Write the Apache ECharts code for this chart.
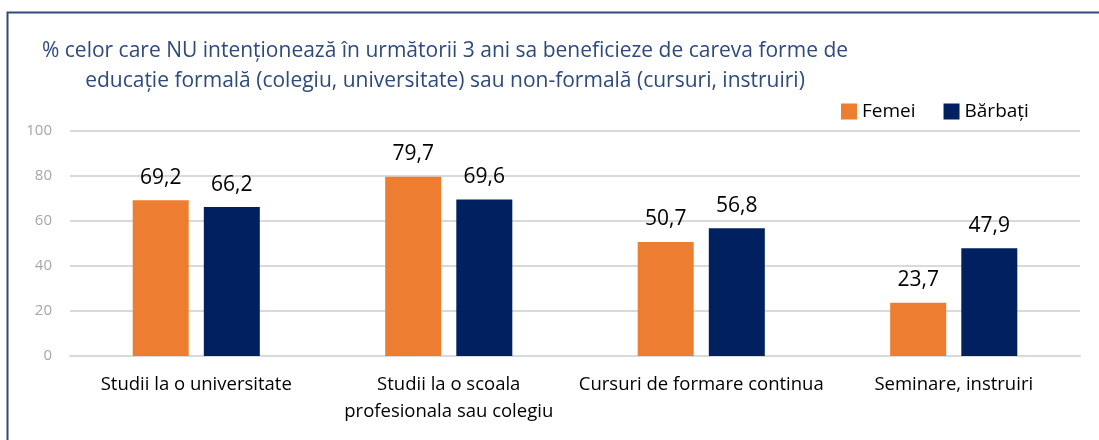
<!DOCTYPE html>
<html>
<head>
<meta charset="utf-8">
<script src="https://cdn.jsdelivr.net/npm/echarts@6/dist/echarts.min.js"></script>
<style>
  html, body { margin: 0; padding: 0; background: #fff; }
  #chart { width: 1099px; height: 440px; }
</style>
</head>
<body>
<div id="chart"></div>
<script>
// date
var categorii = ['Studii la o universitate', 'Studii la o scoala\nprofesionala sau colegiu', 'Cursuri de formare continua', 'Seminare, instruiri'];
var femei = [69.2, 79.7, 50.7, 23.7];
var barbati = [66.2, 69.6, 56.8, 47.9];
var yTicks = [0, 20, 40, 60, 80, 100];

var font = 'Open Sans';

function eticheta(p) {
    return String(p.value).replace('.', ',');
}

var myChart = echarts.init(document.querySelector('#chart'));
var option = {
    backgroundColor: '#fff',
    animation: false,
    title: {
        text: '% celor care NU intenționează în următorii 3 ani sa beneficieze de careva forme de\neducație formală (colegiu, universitate) sau non-formală (cursuri, instruiri)',
        left: 440,
        top: 31,
        textAlign: 'center',
        textStyle: {
            color: '#2E4A7D',
            fontFamily: font,
            fontWeight: 'normal',
            fontSize: 21,
            lineHeight: 30
        }
    },
    graphic: [{
        type: 'rect',
        shape: { x: 7.5, y: 12.5, width: 1200, height: 500 },
        style: { fill: 'none', stroke: '#2E4A7A', lineWidth: 2 },
        silent: true
    }],
    legend: {
        left: 836,
        top: 97,
        itemWidth: 16,
        itemHeight: 16,
        itemGap: 28,
        icon: 'rect',
        textStyle: { color: '#000', fontFamily: font, fontSize: 19 },
        data: ['Femei', 'Bărbați']
    },
    grid: {
        left: 70,
        right: 19,
        top: 131,
        bottom: 84
    },
    xAxis: {
        type: 'category',
        data: categorii,
        axisLine: { lineStyle: { color: '#D9D9D9', width: 2 } },
        axisTick: { show: false },
        axisLabel: {
            color: '#000',
            fontFamily: font,
            fontSize: 18.5,
            lineHeight: 27,
            margin: 15,
            interval: 0
        }
    },
    yAxis: {
        type: 'value',
        min: yTicks[0],
        max: yTicks[yTicks.length - 1],
        interval: 20,
        axisLine: { show: false },
        axisTick: { show: false },
        axisLabel: { color: '#A6A6A6', fontFamily: font, fontSize: 15, margin: 18 },
        splitLine: { lineStyle: { color: '#D9D9D9', width: 2 } }
    },
    series: [
        {
            name: 'Femei',
            type: 'bar',
            data: femei,
            barWidth: 56,
            barGap: '27%',
            itemStyle: { color: '#ED7D31' },
            label: {
                show: true,
                position: 'top',
                distance: 12,
                color: '#000',
                fontFamily: font,
                fontSize: 21,
                formatter: eticheta
            }
        },
        {
            name: 'Bărbați',
            type: 'bar',
            data: barbati,
            barWidth: 56,
            barGap: '27%',
            itemStyle: { color: '#002060' },
            label: {
                show: true,
                position: 'top',
                distance: 12,
                color: '#000',
                fontFamily: font,
                fontSize: 21,
                formatter: eticheta
            }
        }
    ]
};
myChart.setOption(option, true);
</script>
</body>
</html>
